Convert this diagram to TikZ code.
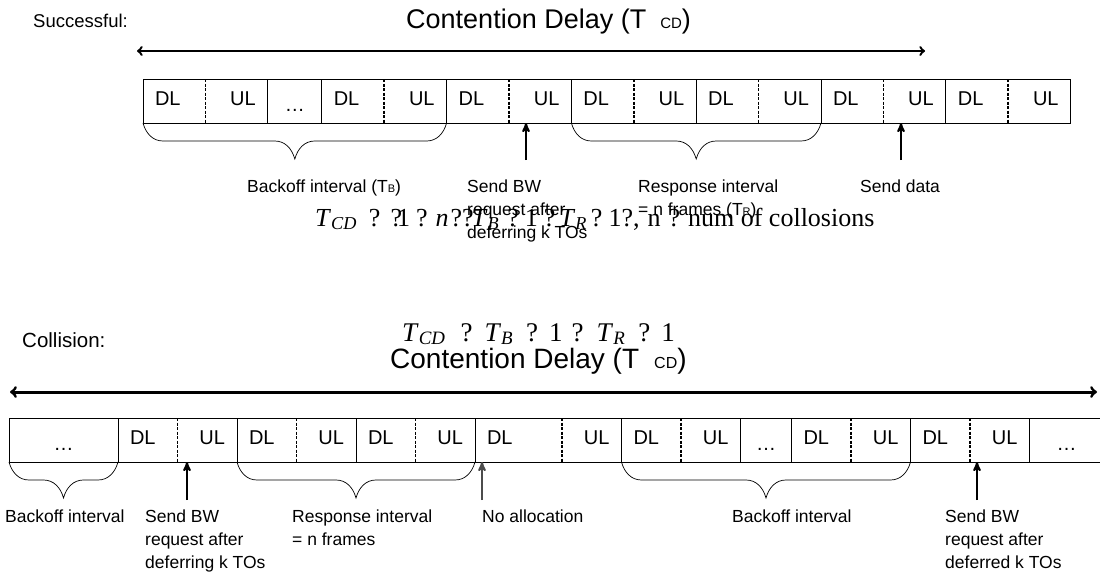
\documentclass[tikz,border=0pt]{standalone}
\usepackage{fontspec}
\setmainfont{Liberation Sans}
\newfontfamily\timesfont{Liberation Serif}
\usetikzlibrary{arrows,positioning,decorations.pathreplacing}

\newcommand{\tsub}[1]{{\fontsize{11}{11}\selectfont #1}}
\newcommand{\msub}[1]{\textsubscript{\itshape #1}}

\tikzset{
  slot/.style={anchor=west, inner xsep=12pt, inner ysep=0pt, outer sep=0pt,
    text height=26pt, text depth=18pt, font=\fontsize{20}{20}\selectfont},
  dl/.style={slot, text width=#1, align=left},
  dl/.default=38.4pt,
  ul/.style={slot, text width=#1, align=right},
  ul/.default=38.4pt,
  more/.style={slot, text width=#1, align=center},
  cellline/.style={line width=0.9pt},
  divider/.style={line width=1.6pt, dash pattern=on 3pt off 1.5pt},
  curly/.style={decorate, decoration={brace, mirror, amplitude=20pt,
    transform={yscale=1.8}}, line width=0.7pt},
  note/.style={anchor=north west, align=left, inner sep=0pt,
    font=\fontsize{17.5}{23}\selectfont},
  title/.style={anchor=base west, inner sep=0pt, font=\fontsize{#1}{#1}\selectfont},
  formula/.style={anchor=base west, inner sep=0pt,
    font=\timesfont\fontsize{#1}{#1}\selectfont},
  uparrow/.style={->, >=stealth', line width=2pt},
  span/.style={<->, >=to, line width=2.4pt},
}

\begin{document}
\begin{tikzpicture}[x=1pt,y=-1pt]
  \useasboundingbox (0,0) rectangle (1100,584);

  % successful case
  \node[title=18.5] (succ) at (33,27) {Successful:};
  \node[title=27] (cd1) at (406,28)
    {Contention Delay (T\hspace{14pt}{\fontsize{15}{15}\selectfont CD})};
  \coordinate (cd1L) at (137,51);
  \coordinate (cd1R) at (925,51);
  \draw[span] (cd1L) -- (cd1R);

  \node[dl] (s1) at (143,101) {DL};
  \node[ul] (s2) [right=0pt of s1] {UL};
  \node[more=30pt] (s3) [right=0pt of s2] {\raisebox{-6pt}{\dots}};
  \node[dl] (s4) [right=0pt of s3] {DL};
  \node[ul] (s5) [right=0pt of s4] {UL};
  \node[dl] (s6) [right=0pt of s5] {DL};
  \node[ul] (s7) [right=0pt of s6] {UL};
  \node[dl] (s8) [right=0pt of s7] {DL};
  \node[ul] (s9) [right=0pt of s8] {UL};
  \node[dl] (s10) [right=0pt of s9] {DL};
  \node[ul] (s11) [right=0pt of s10] {UL};
  \node[dl] (s12) [right=0pt of s11] {DL};
  \node[ul] (s13) [right=0pt of s12] {UL};
  \node[dl] (s14) [right=0pt of s13] {DL};
  \node[ul] (s15) [right=0pt of s14] {UL};

  \draw[cellline] (s1.north west) rectangle (s15.south east);
  \draw[cellline] (s2.north east) -- (s2.south east) (s3.north east) -- (s3.south east)
    (s5.north east) -- (s5.south east) (s7.north east) -- (s7.south east)
    (s9.north east) -- (s9.south east) (s11.north east) -- (s11.south east)
    (s13.north east) -- (s13.south east);
  \draw[divider] (s1.north east) -- (s1.south east) (s4.north east) -- (s4.south east)
    (s6.north east) -- (s6.south east) (s8.north east) -- (s8.south east)
    (s10.north east) -- (s10.south east) (s12.north east) -- (s12.south east)
    (s14.north east) -- (s14.south east);

  \draw[curly] (s1.south west) -- (s5.south east);
  \draw[curly] (s8.south west) -- (s11.south east);

  \coordinate (bw1) at (526,160);
  \coordinate (data1) at (901,160);
  \draw[uparrow] (bw1) -- (bw1 |- s7.south);
  \draw[uparrow] (data1) -- (data1 |- s12.south);

  \node[note] (bkoff1) at (247,180) {Backoff interval (T\tsub{B})};
  \node[note] (bwreq1) at (467,180) {Send BW\\request after\\deferring k TOs};
  \node[note] (resp1) at (638,180) {Response interval\\= n frames (T\tsub{R})};
  \node[note] (data) at (860,180) {Send data};
  \node[formula=26] (eq1) at (315,226)
    {\textit{T}\msub{CD}\hspace{12pt}?\hspace{10pt}?\kern-5pt1\hspace{6pt}?\hspace{8pt}\textit{n}\hspace{2pt}??\kern-2pt\textit{T}\msub{B}\hspace{8pt}?\hspace{6pt}1\hspace{6pt}?\hspace{4pt}\textit{T}\msub{R}\hspace{4pt}?\hspace{6pt}1?,\hspace{8pt}n\hspace{8pt}?\hspace{8pt}num of collosions};

  % collision case
  \node[title=20.5] (coll) at (22,347) {Collision:};
  \node[formula=27] (eq2) at (402,341)
    {\textit{T}\msub{CD}\hspace{15pt}?\hspace{12pt}\textit{T}\msub{B}\hspace{13pt}?\hspace{11pt}1\hspace{9pt}?\hspace{13pt}\textit{T}\msub{R}\hspace{13pt}?\hspace{11pt}1};
  \node[title=28] (cd2) at (390,368)
    {Contention Delay (T\hspace{15pt}{\fontsize{16}{16}\selectfont CD})};
  \coordinate (cd2L) at (10,392);
  \coordinate (cd2R) at (1097,392);
  \draw[span, line width=3pt] (cd2L) -- (cd2R);

  \node[more=85pt] (c1) at (9,440) {\raisebox{-6pt}{\dots}};
  \node[dl=35.5pt] (c2) [right=0pt of c1] {DL};
  \node[ul=35.5pt] (c3) [right=0pt of c2] {UL};
  \node[dl=35.5pt] (c4) [right=0pt of c3] {DL};
  \node[ul=35.5pt] (c5) [right=0pt of c4] {UL};
  \node[dl=35.5pt] (c6) [right=0pt of c5] {DL};
  \node[ul=35.5pt] (c7) [right=0pt of c6] {UL};
  \node[dl=63pt] (c8) [right=0pt of c7] {DL};
  \node[ul=35.5pt] (c9) [right=0pt of c8] {UL};
  \node[dl=35.5pt] (c10) [right=0pt of c9] {DL};
  \node[ul=35.5pt] (c11) [right=0pt of c10] {UL};
  \node[more=27pt] (c12) [right=0pt of c11] {\raisebox{-6pt}{\dots}};
  \node[dl=35.5pt] (c13) [right=0pt of c12] {DL};
  \node[ul=35.5pt] (c14) [right=0pt of c13] {UL};
  \node[dl=35.5pt] (c15) [right=0pt of c14] {DL};
  \node[ul=35.5pt] (c16) [right=0pt of c15] {UL};
  \node[more=50pt] (c17) [right=0pt of c16] {\raisebox{-6pt}{\dots}};

  \draw[cellline] (c1.north west) rectangle (c17.south east);
  \draw[cellline] (c1.north east) -- (c1.south east) (c3.north east) -- (c3.south east)
    (c5.north east) -- (c5.south east) (c7.north east) -- (c7.south east)
    (c9.north east) -- (c9.south east) (c11.north east) -- (c11.south east)
    (c12.north east) -- (c12.south east) (c14.north east) -- (c14.south east)
    (c16.north east) -- (c16.south east);
  \draw[divider] (c2.north east) -- (c2.south east) (c4.north east) -- (c4.south east)
    (c6.north east) -- (c6.south east) (c8.north east) -- (c8.south east)
    (c10.north east) -- (c10.south east) (c13.north east) -- (c13.south east)
    (c15.north east) -- (c15.south east);

  \draw[curly] (c1.south west) -- (c1.south east);
  \draw[curly] (c4.south west) -- (c7.south east);
  \draw[curly] (c10.south west) -- (c14.south east);

  \coordinate (bw2) at (187,500);
  \coordinate (noalloc) at (482,500);
  \coordinate (bw3) at (977,500);
  \draw[uparrow] (bw2) -- (bw2 |- c3.south);
  \draw[uparrow, gray!60!black] (noalloc) -- (noalloc |- c8.south);
  \draw[uparrow] (bw3) -- (bw3 |- c16.south);

  \node[note] (bkoff2) at (5,510) {Backoff interval};
  \node[note] (bwreq2) at (145,510) {Send BW\\request after\\deferring k TOs};
  \node[note] (resp2) at (292,510) {Response interval\\= n frames};
  \node[note] (nalloc) at (482,510) {No allocation};
  \node[note] (bkoff3) at (732,510) {Backoff interval};
  \node[note] (bwreq3) at (945,510) {Send BW\\request after\\deferred k TOs};
\end{tikzpicture}
\end{document}
